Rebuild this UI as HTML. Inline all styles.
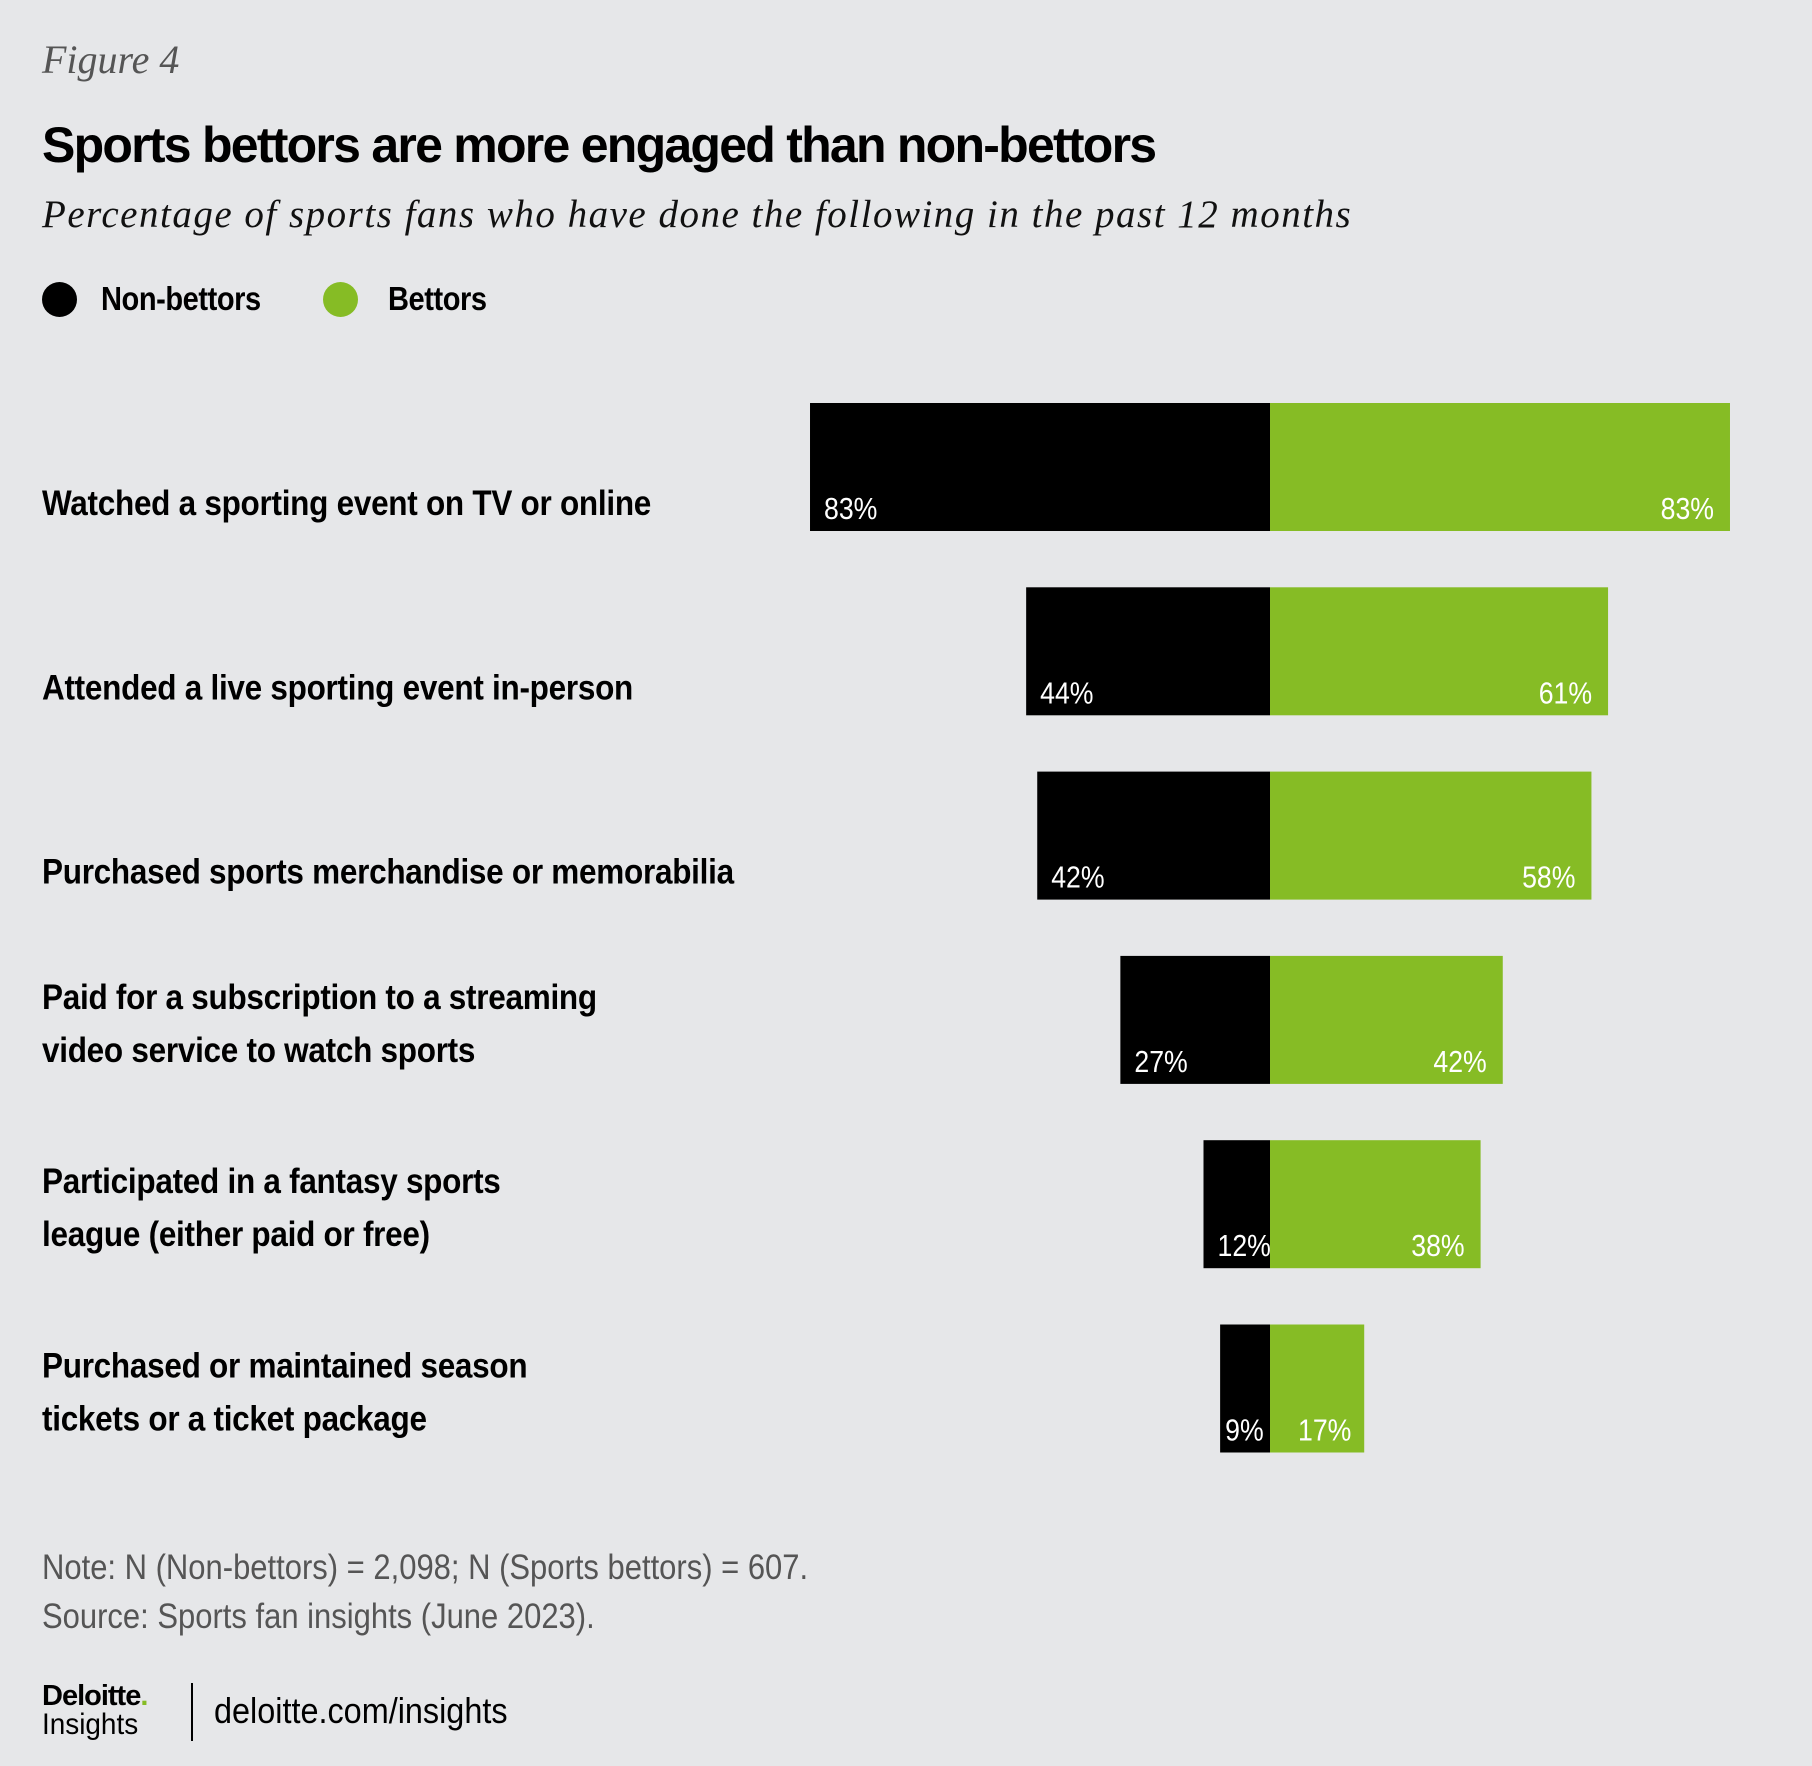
<!DOCTYPE html>
<html><head><meta charset="utf-8">
<style>
body{margin:0;background:#e6e7e9;}
#root{position:relative;width:1812px;height:1766px;background:#e6e7e9;overflow:hidden;font-family:"Liberation Sans",sans-serif;}
.abs{position:absolute;white-space:nowrap;transform-origin:left top;}
.lab{font-weight:bold;font-size:35px;color:#000;line-height:52px;letter-spacing:-0.5px}
</style></head>
<body>
<div id="root">
<div class="abs" style="left:42px;top:36px;font-family:'Liberation Serif',serif;font-style:italic;font-size:40px;color:#555">Figure 4</div>
<div class="abs" style="left:42px;top:116px;font-family:'Liberation Sans',sans-serif;font-weight:bold;font-size:50px;letter-spacing:-1.75px;color:#000">Sports bettors are more engaged than non-bettors</div>
<div class="abs" style="left:42px;top:192px;font-family:'Liberation Serif',serif;font-style:italic;font-size:39px;color:#111;letter-spacing:1.5px">Percentage of sports fans who have done the following in the past 12 months</div>
<div class="abs" style="left:42px;top:282px">
 <div style="position:absolute;left:0;top:0;width:35px;height:35px;border-radius:50%;background:#000"></div>
 <div class="lab" style="position:absolute;left:59px;top:-9px;font-size:33px;transform:scaleX(0.88);transform-origin:left">Non-bettors</div></div>
<div class="abs" style="left:323px;top:282px">
 <div style="position:absolute;left:0;top:0;width:35px;height:35px;border-radius:50%;background:#86bc25"></div>
 <div class="lab" style="position:absolute;left:65px;top:-9px;font-size:33px;transform:scaleX(0.88);transform-origin:left">Bettors</div></div>
<svg id="chart" width="1812" height="1766" style="position:absolute;left:0;top:0"></svg>
<div class="abs" style="left:42px;top:1548px;font-size:35px;color:#555;transform:scaleX(0.885)">Note: N (Non-bettors) = 2,098; N (Sports bettors) = 607.</div>
<div class="abs" style="left:42px;top:1597px;font-size:35px;color:#555;transform:scaleX(0.885)">Source: Sports fan insights (June 2023).</div>
<div class="abs" style="left:42px;top:1680px;font-weight:bold;font-size:29px;letter-spacing:-1px">Deloitte<span style="color:#86bc25">.</span></div>
<div class="abs" style="left:42px;top:1708px;font-size:30px;color:#000;transform:scaleX(0.93)">Insights</div>
<div class="abs" style="left:191px;top:1683px;width:2px;height:58px;background:#000"></div>
<div class="abs" style="left:214px;top:1690px;font-size:36px;color:#000;transform:scaleX(0.9)">deloitte.com/insights</div>
</div>
<script>
const categories=[["Watched a sporting event on TV or online"],["Attended a live sporting event in-person"],["Purchased sports merchandise or memorabilia"],["Paid for a subscription to a streaming","video service to watch sports"],["Participated in a fantasy sports","league (either paid or free)"],["Purchased or maintained season","tickets or a ticket package"]];
const nonBettors=[83,44,42,27,12,9];
const bettors=[83,61,58,42,38,17];
const NS="http://www.w3.org/2000/svg";
const svg=document.getElementById('chart');
const cx=1270,scale=5.542,top0=403,step=184.3,bh=128,SX=0.86,SXL=0.9;
const x=v=>v*scale;
const y=i=>top0+i*step;
function mk(t,a){const e=document.createElementNS(NS,t);for(const k in a)e.setAttribute(k,a[k]);svg.appendChild(e);return e;}
function txt(px,py,a,s){const e=mk('text',Object.assign({x:0,y:0,transform:`translate(${px},${py}) scale(${s||SX},1)`},a));return e;}
categories.forEach((c,i)=>{
 const yy=y(i);
 const b1=mk('rect',{x:cx-x(nonBettors[i]),y:yy,width:x(nonBettors[i]),height:bh,fill:'#000'});
 
 
 const b2=mk('rect',{x:cx,y:yy,width:x(bettors[i]),height:bh,fill:'#86bc25'});
 
 
 const t1=txt(cx-x(nonBettors[i])+(nonBettors[i]<10?5:14),yy+bh-12,{fill:'#fff','font-size':31,'font-family':'Liberation Sans, sans-serif'});
 t1.textContent=nonBettors[i]+'%';
 
 
 const small=bettors[i]<20;
 const t2=txt(small?cx+28:cx+x(bettors[i])-16,yy+bh-12,{fill:'#fff','font-size':31,'text-anchor':small?'start':'end','font-family':'Liberation Sans, sans-serif'});
 t2.textContent=bettors[i]+'%';
 
 
 const n=c.length;
 const last=n>1?yy+106:yy+112;
 c.forEach((line,j)=>{
  const t=txt(42,last-(n-1-j)*53,{'font-size':35,'font-weight':'bold','letter-spacing':-0.3,'font-family':'Liberation Sans, sans-serif'},SXL);
  t.textContent=line;
  
  
 });
});
</script>
</body></html>
